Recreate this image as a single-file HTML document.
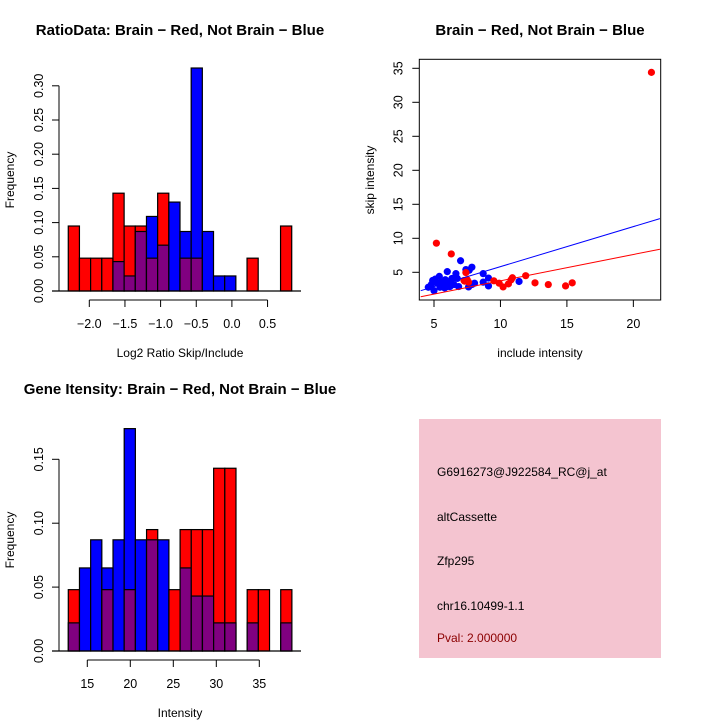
<!DOCTYPE html>
<html><head><meta charset="utf-8"><style>
html,body{margin:0;padding:0;background:#fff;}
svg{display:block;font-family:"Liberation Sans",sans-serif;}
</style></head><body>
<svg id="c" width="720" height="720" viewBox="0 0 720 720"></svg>
<script>
// ---- Data ----
const ratioRed  = [0.095,0.048,0.048,0.048,0.143,0.095,0.095,0.048,0.143,0,0.048,0.048,0,0,0,0,0.048,0,0,0.095];
const ratioBlue = [0,0,0,0,0.043,0.022,0.087,0.109,0.067,0.130,0.087,0.326,0.087,0.022,0.022,0,0,0,0,0];
const ratioStart = -2.295, ratioWidth = 0.1567;
const ratioXTicks = [-2.0,-1.5,-1.0,-0.5,0.0,0.5];
const ratioXTickLabels = ["\u22122.0","\u22121.5","\u22121.0","\u22120.5","0.0","0.5"];
const ratioYTicks = [0,0.05,0.10,0.15,0.20,0.25,0.30];
const ratioYTickLabels = ["0.00","0.05","0.10","0.15","0.20","0.25","0.30"];

const intRed  = [0.048,0,0,0.048,0,0.048,0,0.095,0,0.048,0.095,0.095,0.095,0.143,0.143,0,0.048,0.048,0,0.048];
const intBlue = [0.022,0.065,0.087,0.065,0.087,0.174,0.087,0.087,0.087,0,0.065,0.043,0.043,0.022,0.022,0,0.022,0,0,0.022];
const intStart = 12.79, intWidth = 1.3;
const intXTicks = [15,20,25,30,35];
const intYTicks = [0,0.05,0.10,0.15];
const intYTickLabels = ["0.00","0.05","0.10","0.15"];

const redX = [21.36,5.18,6.3,7.4,7.26,7.5,7.6,9.5,9.9,10.2,10.6,10.8,10.9,11.9,12.6,13.6,14.9,15.4,7.3];
const redY = [34.4,9.28,7.7,4.95,3.8,3.9,3.55,3.75,3.4,2.85,3.3,3.9,4.2,4.5,3.45,3.2,3.0,3.45,3.7];
const blueX = [4.57,4.9,5.0,5.1,5.25,5.4,5.55,5.7,5.85,6.0,6.1,6.2,6.35,6.5,6.65,6.75,6.85,7.0,7.4,7.65,7.85,7.6,7.85,8.05,8.7,8.7,9.1,9.1,11.4,5.8,5.45,6.0,4.8,6.3];
const blueY = [2.8,3.8,2.3,4.0,3.4,4.4,3.5,2.9,3.9,5.1,3.4,2.9,4.1,3.2,4.8,4.1,2.9,6.7,5.4,5.3,5.75,2.85,3.2,3.4,4.8,3.55,3.0,4.15,3.65,2.7,2.8,2.9,3.2,3.85];
const blueFit = [-0.06,0.589];
const redFit = [-0.14,0.388];
const scXTicks = [5,10,15,20];
const scYTicks = [5,10,15,20,25,30,35];

const NS="http://www.w3.org/2000/svg";
const svg=document.getElementById('c');
function mk(tag,attrs,parent){const e=document.createElementNS(NS,tag);for(const k in attrs)e.setAttribute(k,attrs[k]);(parent||svg).appendChild(e);return e;}
function txt(s,x,y,o,parent){o=o||{};const t=mk('text',{x:x,y:y,'font-size':o.size||12,'text-anchor':o.anchor||'middle',fill:o.fill||'#000'},parent);
 if(o.bold)t.setAttribute('font-weight','bold');if(o.rot!==undefined)t.setAttribute('transform','rotate('+o.rot+' '+x+' '+y+')');t.textContent=s;return t;}

function hist(cfg){
 const g=mk('g',{});
 
 
 const xs=v=>cfg.x0px+(v-cfg.xv0)*cfg.xk;
 const ys=v=>cfg.base-v*cfg.yk;
 const t=txt(cfg.title,cfg.titleX,cfg.titleY,{size:15,bold:true},g);
 
 for(let i=0;i<cfg.red.length;i++){
  const l=xs(cfg.start+i*cfg.w), r=xs(cfg.start+(i+1)*cfg.w);
  const rv=cfg.red[i], bv=cfg.blue[i];
  const top=Math.max(rv,bv), mn=Math.min(rv,bv);
  if(top>0){
   const b=mk('rect',{x:l,y:ys(top),width:r-l,height:ys(0)-ys(top),fill:rv>=bv?'#ff0000':'#0000ff',stroke:'#000','stroke-width':1.2},g);
   
   
  }
  if(mn>0){
   const p=mk('rect',{x:l,y:ys(mn),width:r-l,height:ys(0)-ys(mn),fill:'#800080',stroke:'#000','stroke-width':1.2},g);
   
   
  }
 }
 mk('line',{x1:cfg.baseL,x2:cfg.baseR,y1:cfg.base,y2:cfg.base,stroke:'#000','stroke-width':1.2},g);
 const ya=mk('g',{},g);
 mk('line',{x1:cfg.yax,x2:cfg.yax,y1:ys(cfg.yt[0]),y2:ys(cfg.yt[cfg.yt.length-1]),stroke:'#000'},ya);
 cfg.yt.forEach((v,i)=>{mk('line',{x1:cfg.yax-7,x2:cfg.yax,y1:ys(v),y2:ys(v),stroke:'#000'},ya);
  txt(cfg.ytl[i],cfg.yax-16,ys(v),{rot:-90,size:12.5},ya);});
 const yl=txt('Frequency',14,cfg.yLabelY,{rot:-90},g);
 const xa=mk('g',{},g);
 mk('line',{x1:xs(cfg.xt[0]),x2:xs(cfg.xt[cfg.xt.length-1]),y1:cfg.xay,y2:cfg.xay,stroke:'#000'},xa);
 cfg.xt.forEach((v,i)=>{mk('line',{x1:xs(v),x2:xs(v),y1:cfg.xay,y2:cfg.xay+7,stroke:'#000'},xa);
  txt(cfg.xtl[i],xs(v),cfg.xay+28,{size:12.5},xa);});
 const xl=txt(cfg.xlabel,180,cfg.xLabelY,{},g);
}

hist({name:'ratio-histogram',title:'RatioData: Brain \u2212 Red, Not Brain \u2212 Blue',titleX:180,titleY:35,
 red:ratioRed,blue:ratioBlue,start:ratioStart,w:ratioWidth,xv0:-2.0,x0px:89.3,xk:71.3,base:291,yk:684,
 baseL:52,baseR:301,yax:59,yt:ratioYTicks,ytl:ratioYTickLabels,yLabelY:180,xay:300,xt:ratioXTicks,xtl:ratioXTickLabels,
 xlabel:'Log2 Ratio Skip/Include',xLabelY:357});

hist({name:'intensity-histogram',title:'Gene Itensity: Brain \u2212 Red, Not Brain \u2212 Blue',titleX:180,titleY:394,
 red:intRed,blue:intBlue,start:intStart,w:intWidth,xv0:15,x0px:87.3,xk:8.6,base:651,yk:1278,
 baseL:52,baseR:301,yax:59,yt:intYTicks,ytl:intYTickLabels,yLabelY:540,xay:660,xt:intXTicks,xtl:intXTicks.map(String),
 xlabel:'Intensity',xLabelY:717});

(function(){
 const g=mk('g',{});
 
 
 const xs=v=>434+(v-5)*13.29, ys=v=>272.3-(v-5)*6.8;
 const L=419.3,R=660.7,T=59.3,B=300;
 const t=txt('Brain \u2212 Red, Not Brain \u2212 Blue',540,35,{size:15,bold:true},g);
 
 const box=mk('rect',{x:L,y:T,width:R-L,height:B-T,fill:'none',stroke:'#000'},g);
 
 const cp=mk('clipPath',{id:'cl'},g);mk('rect',{x:L,y:T,width:R-L,height:B-T},cp);
 const xa=mk('g',{},g);
 scXTicks.forEach(v=>{mk('line',{x1:xs(v),x2:xs(v),y1:B,y2:B+7,stroke:'#000'},xa);txt(String(v),xs(v),B+28,{size:12.5},xa);});
 const ya=mk('g',{},g);
 scYTicks.forEach(v=>{mk('line',{x1:L-7,x2:L,y1:ys(v),y2:ys(v),stroke:'#000'},ya);txt(String(v),L-17,ys(v),{rot:-90,size:12.5},ya);});
 const xl=txt('include intensity',540,357,{},g);
 const yl=txt('skip intensity',374,180,{rot:-90},g);
 const pg=mk('g',{'clip-path':'url(#cl)'},g);
 blueX.forEach((x,i)=>{const c=mk('circle',{cx:xs(x),cy:ys(blueY[i]),r:3.6,fill:'#0000ff'},pg);
  });
 redX.forEach((x,i)=>{const c=mk('circle',{cx:xs(x),cy:ys(redY[i]),r:3.6,fill:'#ff0000'},pg);
  });
 const x1=4,x2=22;
 const bl=mk('line',{x1:xs(x1),x2:xs(x2),y1:ys(blueFit[0]+blueFit[1]*x1),y2:ys(blueFit[0]+blueFit[1]*x2),stroke:'#0000ff'},pg);
 
 const rl=mk('line',{x1:xs(x1),x2:xs(x2),y1:ys(redFit[0]+redFit[1]*x1),y2:ys(redFit[0]+redFit[1]*x2),stroke:'#ff0000'},pg);
 
})();

(function(){
 const g=mk('g',{});
 
 
 mk('rect',{x:419,y:419,width:242,height:239,fill:'#f4c4d0'},g);
 const lines=[['G6916273@J922584_RC@j_at',476,'#000','probe-id'],['altCassette',521,'#000','event-type'],['Zfp295',565,'#000','gene-name'],['chr16.10499-1.1',610,'#000','location'],['Pval: 2.000000',642,'#8b0000','p-value']];
 lines.forEach(l=>{const t=txt(l[0],437,l[1],{anchor:'start',fill:l[2]},g);
  });
})();
</script>
</body></html>
